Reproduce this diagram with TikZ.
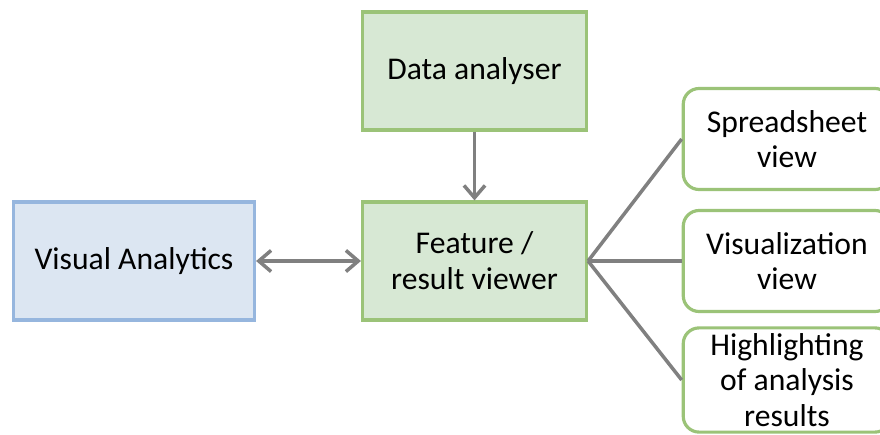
\documentclass[tikz,border=0pt]{standalone}
\usepackage{fontspec}
\setmainfont{Carlito}
\usepackage{xcolor}
\usetikzlibrary{arrows.meta,positioning}

\definecolor{boxgreen}{RGB}{155,195,120}
\definecolor{fillgreen}{RGB}{215,232,212}
\definecolor{boxblue}{RGB}{150,182,222}
\definecolor{fillblue}{RGB}{220,230,242}
\definecolor{arrgray}{RGB}{128,128,128}

\begin{document}
\begin{tikzpicture}[
  blk/.style={draw, rectangle, line width=1.8pt,
    minimum width=4.48cm, minimum height=2.36cm,
    align=center, font=\fontsize{18}{20.5}\selectfont},
  gblk/.style={blk, draw=boxgreen, fill=fillgreen},
  bblk/.style={blk, draw=boxblue, fill=fillblue, minimum width=4.82cm},
  vw/.style={draw=boxgreen, fill=white, line width=1.8pt, rectangle,
    rounded corners=9pt, minimum width=4.15cm, minimum height=2.02cm,
    align=center, font=\fontsize{18}{20}\selectfont},
  arr/.style={-{Straight Barb[length=7pt,width=12pt]}, line width=2pt, arrgray},
  ln/.style={line width=2pt, arrgray}]
  \clip (0,0) rectangle (17.6,8.68);
  \useasboundingbox (0,0) rectangle (17.6,8.68);
  % Main blocks
  \node[gblk] (ana) at (9.49,7.26) {Data analyser};
  \node[gblk] (fv)  at (9.49,3.46) {Feature /\\result viewer};
  \node[bblk] (va)  at (2.68,3.46) {Visual Analytics};
  % Views
  \node[vw] (ss) at (15.74,5.90) {Spreadsheet\\view};
  \node[vw] (vz) at (15.74,3.46) {Visualization\\view};
  \node[vw] (hl) at (15.74,1.08) {Highlighting\\of analysis\\results};
  % Arrows
  \draw[arr] (ana) -- (fv);
  \draw[arr, {Straight Barb[length=7pt,width=12pt]}-{Straight Barb[length=7pt,width=12pt]}] (va) -- (fv);
  \draw[ln] (fv.east) -- (ss.west);
  \draw[ln] (fv.east) -- (vz.west);
  \draw[ln] (fv.east) -- (hl.west);
\end{tikzpicture}
\end{document}
